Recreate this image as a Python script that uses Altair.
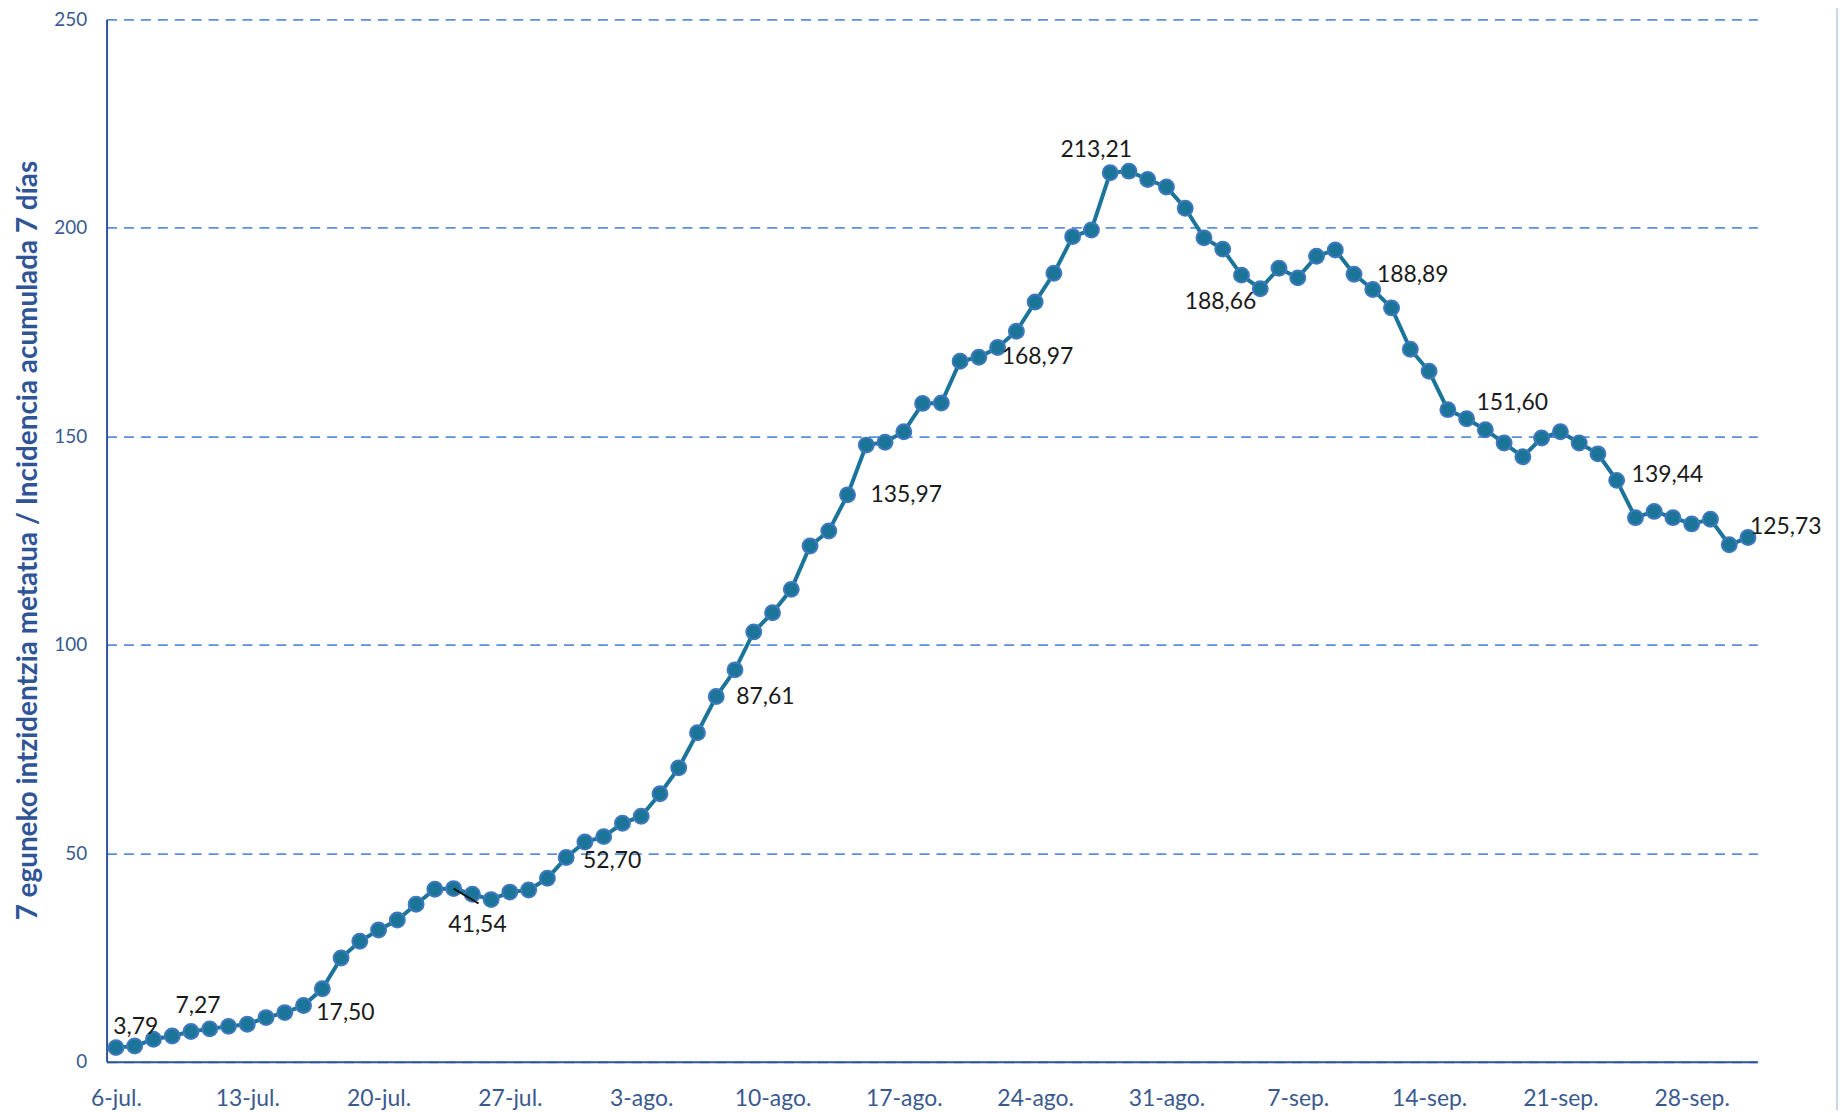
import json
import altair as alt
import pandas as pd

# ---- data ----
day_index = list(range(88))  # 6-jul. (0) ... 1-oct. (87)
values = [
    3.40, 3.79, 5.40, 6.20, 7.27, 7.90, 8.50, 9.00, 10.60, 11.80, 13.50, 17.50,
    24.90, 28.90, 31.60, 34.00, 37.80, 41.40, 41.54, 40.20, 38.90, 40.70, 41.20,
    44.00, 49.00, 52.70,
    54.00, 57.20, 58.90, 64.30, 70.50, 78.90, 87.61, 94.00, 103.10, 107.70,
    113.30, 123.70, 127.30, 135.97, 147.90, 148.60, 151.10, 157.90, 158.00,
    168.00, 168.97, 171.30, 175.20, 182.20, 189.10, 197.90, 199.50, 213.21,
    213.60, 211.60, 209.80,
    204.70, 197.60, 194.90, 188.66, 185.40, 190.30, 188.00, 193.20, 194.70,
    188.89, 185.20, 180.80, 170.90, 165.60, 156.40, 154.20, 151.60, 148.40,
    145.10, 149.60, 151.10, 148.40, 145.80, 139.44, 130.50, 132.00, 130.50,
    129.00, 130.10, 124.00,
    125.73,
]
tick_days = [0, 7, 14, 21, 28, 35, 42, 49, 56, 63, 70, 77, 84]
tick_labels = ["6-jul.", "13-jul.", "20-jul.", "27-jul.", "3-ago.", "10-ago.",
               "17-ago.", "24-ago.", "31-ago.", "7-sep.", "14-sep.", "21-sep.",
               "28-sep."]
y_ticks = [0, 50, 100, 150, 200, 250]
label_days = [1, 4, 11, 18, 25, 32, 39, 46, 53, 60, 66, 73, 80, 87]
label_texts = ["3,79", "7,27", "17,50", "41,54", "52,70", "87,61", "135,97",
               "168,97", "213,21", "188,66", "188,89", "151,60", "139,44",
               "125,73"]
# label placement styles: (align, dx, dy)
label_styles = [("center", 1, -19), ("center", 7, -26), ("left", -6, 24),
                ("center", 24, 37), ("left", -2, 19), ("left", 20, 1),
                ("left", 23, 0), ("left", 23, 0), ("center", -14, -23),
                ("center", -21, 27), ("left", 23, 1), ("left", -9, -27),
                ("left", 15, -5), ("left", 2, -11)]

df = pd.DataFrame({"day": day_index, "value": values})
val_by_day = dict(zip(day_index, values))
lab_df = pd.DataFrame({"day": label_days, "label": label_texts,
                       "value": [val_by_day[d] for d in label_days]})

# ---- styling ----
AXIS_BLUE = "#2F5597"
TEXT_BLUE = "#3A5A8F"
GRID_BLUE = "#5B8FDB"
LINE_COL = "#1B7598"
FONT = "Lato"

label_expr = json.dumps(tick_labels) + "[round(datum.value / 7)]"

x_enc = alt.X("day:Q",
              scale=alt.Scale(domain=[-0.5, 87.5], nice=False, zero=False),
              axis=alt.Axis(values=tick_days, labelExpr=label_expr, grid=False,
                            ticks=False, domainColor=AXIS_BLUE, domainWidth=2,
                            labelColor=TEXT_BLUE, labelFont=FONT,
                            labelFontSize=23, labelPadding=26, title=None))
y_enc = alt.Y("value:Q",
              scale=alt.Scale(domain=[0, 250], nice=False),
              axis=alt.Axis(values=y_ticks, grid=True, gridDash=[10, 7],
                            gridColor=GRID_BLUE, gridWidth=1.8, ticks=False,
                            domainColor=AXIS_BLUE, domainWidth=2,
                            labelColor=TEXT_BLUE, labelFont=FONT,
                            labelFontSize=19, labelPadding=20,
                            title="7 eguneko intzidentzia metatua / Incidencia acumulada  7 días",
                            titleColor=AXIS_BLUE, titleFont=FONT,
                            titleFontSize=28, titleFontWeight="bold",
                            titleAngle=270, titleAlign="center",
                            titleBaseline="middle", titleX=-78, titleY=523))

line = alt.Chart(df).mark_line(color=LINE_COL, strokeWidth=4).encode(x=x_enc, y=y_enc)
points = alt.Chart(df).mark_point(filled=True, shape="circle", size=225,
                                  color=LINE_COL, stroke="#3F78BE",
                                  strokeWidth=2, opacity=1).encode(x="day:Q", y="value:Q")

layers = [line, points]

# leader line for 41,54 label
lead = lab_df[lab_df["label"] == "41,54"].copy()
lead["day2"] = lead["day"] + 25 / 18.82
lead["value2"] = lead["value"] - 15 / 4.192
layers.append(alt.Chart(lead).mark_rule(color="#111111", strokeWidth=2).encode(
    x="day:Q", y="value:Q", x2="day2:Q", y2="value2:Q"))

for txt, (al, dx, dy) in zip(label_texts, label_styles):
    layers.append(
        alt.Chart(lab_df).transform_filter(alt.datum.label == txt)
        .mark_text(align=al, baseline="middle", dx=dx, dy=dy, font=FONT,
                   fontSize=23, color="#1a1a1a")
        .encode(x="day:Q", y="value:Q", text="label:N"))

border = alt.Chart(df).mark_rule(color="#C9D8EC", strokeWidth=2).encode(
    x=alt.value(1738), y=alt.value(-17), y2=alt.value(1095))
layers.append(border)

chart = alt.layer(*layers).properties(
    width=1658, height=1047,
    autosize=alt.AutoSizeParams(type="none"),
    padding={"left": 99, "top": 9, "right": 83, "bottom": 48},
).configure_view(stroke=None)

chart.save("out.html", embed_options={"renderer": "svg", "actions": False})
